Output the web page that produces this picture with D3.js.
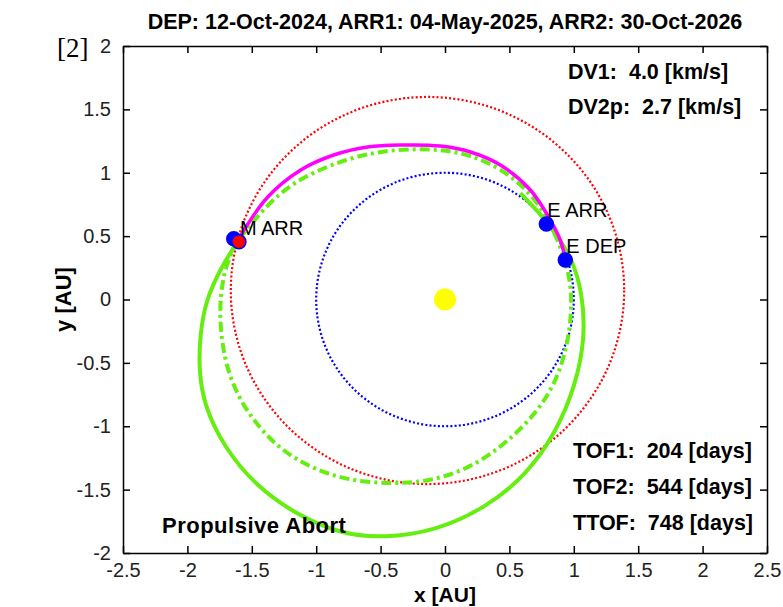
<!DOCTYPE html>
<html>
<head>
<meta charset="utf-8">
<script src="https://cdn.jsdelivr.net/npm/d3@7"></script>
<style>
  body { margin: 0; background: #fff; }
  svg { display: block; font-family: "Liberation Sans", Arial, sans-serif; }
</style>
</head>
<body>
<div id="chart"></div>
<script>
// tick values
const xTicks = [-2.5, -2, -1.5, -1, -0.5, 0, 0.5, 1, 1.5, 2, 2.5]
const yTicks = [-2, -1.5, -1, -0.5, 0, 0.5, 1, 1.5, 2]

// orbits: centre and radius [AU]
const earthOrbit = { cx: 0, cy: 0, r: 1 }
const marsOrbit = { cx: -0.136, cy: 0.071, r: 1.527 }

// outbound leg Earth -> Mars (magenta)
const outbound = [
  [0.934, 0.320], [0.895, 0.469], [0.818, 0.627], [0.663, 0.864], [0.430, 1.061],
  [0.198, 1.164], [-0.035, 1.211], [-0.345, 1.219], [-0.601, 1.203], [-0.864, 1.140],
  [-1.120, 1.022], [-1.376, 0.809], [-1.609, 0.469]
]

// return leg after propulsive abort (green solid)
const returnLeg = [
  [-1.609, 0.462], [-1.740, 0.249], [-1.857, -0.004], [-1.903, -0.280], [-1.911, -0.556],
  [-1.872, -0.832], [-1.717, -1.164], [-1.469, -1.471], [-1.151, -1.700], [-0.810, -1.850],
  [-0.477, -1.882], [-0.074, -1.826], [0.314, -1.645], [0.632, -1.385], [0.864, -1.045],
  [1.012, -0.682], [1.089, -0.304], [1.066, 0.059], [0.988, 0.312], [0.895, 0.469],
  [0.764, 0.651], [0.585, 0.840]
]

// full transfer ellipse (green dash-dot)
const transferOrbit = [
  [-1.609, 0.462], [-1.663, 0.367], [-1.725, 0.178], [-1.756, -0.107], [-1.717, -0.477],
  [-1.609, -0.769], [-1.461, -0.990], [-1.275, -1.187], [-1.027, -1.337], [-0.733, -1.432],
  [-0.399, -1.456], [-0.112, -1.432], [0.159, -1.345], [0.407, -1.187], [0.624, -0.990],
  [0.779, -0.793], [0.880, -0.596], [0.950, -0.359], [0.981, -0.122], [0.981, 0.099],
  [0.934, 0.320], [0.818, 0.611], [0.663, 0.848], [0.430, 1.037], [0.198, 1.140],
  [-0.035, 1.187], [-0.399, 1.187], [-0.733, 1.124], [-1.120, 0.966], [-1.376, 0.761],
  [-1.609, 0.462]
]

// planet positions
const markers = [
  { name: "E DEP", x: 0.934, y: 0.312, fill: "#0000ff", stroke: "#0000ff" },
  { name: "E ARR", x: 0.787, y: 0.596, fill: "#0000ff", stroke: "#0000ff" },
  { name: "", x: -1.640, y: 0.480, fill: "#0000ff", stroke: "#0000ff" },
  { name: "M ARR", x: -1.600, y: 0.455, fill: "#ff0000", stroke: "#0000ff" }
]
const sun = { x: 0, y: 0 }

const titleText = "DEP: 12-Oct-2024, ARR1: 04-May-2025, ARR2: 30-Oct-2026"
const statsTop = ["DV1:  4.0 [km/s]", "DV2p:  2.7 [km/s]"]
const statsBottom = ["TOF1:  204 [days]", "TOF2:  544 [days]", "TTOF:  748 [days]"]

const width = 783, height = 607
const margin = { top: 46, right: 16, bottom: 54, left: 123 }

const svg = d3.select("#chart").append("svg")
  .attr("width", width)
  .attr("height", height)

const x = d3.scaleLinear().domain([-2.5, 2.5]).range([margin.left, width - margin.right])
const y = d3.scaleLinear().domain([-2, 2]).range([height - margin.bottom, margin.top])

const plot = svg.append("g")

// Mars orbit, red dotted
plot.append("ellipse")
  .attr("cx", x(marsOrbit.cx)).attr("cy", y(marsOrbit.cy))
  .attr("rx", x(marsOrbit.r) - x(0)).attr("ry", y(0) - y(marsOrbit.r))
  .attr("fill", "none").attr("stroke", "#ff0000")
  .attr("stroke-width", 2.2).attr("stroke-dasharray", "2,2.2")

// Earth orbit, blue dotted
plot.append("ellipse")
  .attr("cx", x(earthOrbit.cx)).attr("cy", y(earthOrbit.cy))
  .attr("rx", x(earthOrbit.r) - x(0)).attr("ry", y(0) - y(earthOrbit.r))
  .attr("fill", "none").attr("stroke", "#0000ff")
  .attr("stroke-width", 2.2).attr("stroke-dasharray", "2,2.2")

const line = d3.line()
  .x(d => x(d[0]))
  .y(d => y(d[1]))
  .curve(d3.curveCatmullRom.alpha(0.5))

// smoother curve for the hand-read green tracks
const smooth = d3.line()
  .x(d => x(d[0]))
  .y(d => y(d[1]))
  .curve(d3.curveBasis)

plot.append("path")
  .datum(returnLeg)
  .attr("d", smooth)
  .attr("fill", "none").attr("stroke", "#66ee11").attr("stroke-width", 4)

plot.append("path")
  .datum(transferOrbit)
  .attr("d", smooth)
  .attr("fill", "none").attr("stroke", "#66ee11").attr("stroke-width", 4)
  .attr("stroke-dasharray", "10,4,3,4")

plot.append("path")
  .datum(outbound)
  .attr("d", line)
  .attr("fill", "none").attr("stroke", "#ff00ff").attr("stroke-width", 3.5)

// planets and sun
plot.selectAll("circle.planet")
  .data(markers)
  .join("circle")
  .attr("class", "planet")
  .attr("cx", d => x(d.x)).attr("cy", d => y(d.y))
  .attr("r", 7)
  .attr("fill", d => d.fill).attr("stroke", d => d.stroke).attr("stroke-width", 1.5)

plot.append("circle")
  .attr("cx", x(sun.x)).attr("cy", y(sun.y))
  .attr("r", 11).attr("fill", "#ffff00")

plot.selectAll("text.mlabel")
  .data(markers.filter(d => d.name))
  .join("text")
  .attr("class", "mlabel")
  .attr("x", d => x(d.x) + 1)
  .attr("y", d => y(d.y) - 7)
  .attr("font-size", 20)
  .text(d => d.name)

// axes, ticks inside on all four sides
const xAxis = g => g.attr("transform", `translate(0,${height - margin.bottom})`)
  .call(d3.axisBottom(x).tickValues(xTicks).tickSize(-7).tickSizeOuter(0).tickPadding(10).tickFormat(String))
const xAxisTop = g => g.attr("transform", `translate(0,${margin.top})`)
  .call(d3.axisTop(x).tickValues(xTicks).tickSize(-7).tickSizeOuter(0).tickFormat(""))
const yAxis = g => g.attr("transform", `translate(${margin.left},0)`)
  .call(d3.axisLeft(y).tickValues(yTicks).tickSize(-7).tickSizeOuter(0).tickPadding(12).tickFormat(String))
const yAxisRight = g => g.attr("transform", `translate(${width - margin.right},0)`)
  .call(d3.axisRight(y).tickValues(yTicks).tickSize(-7).tickSizeOuter(0).tickFormat(""))

for (const a of [xAxis, xAxisTop, yAxis, yAxisRight]) {
  const g = svg.append("g").call(a)
  g.selectAll("path, line").attr("stroke", "#000").attr("stroke-width", 1.5)
  g.selectAll("text")
    .attr("fill", "#222")
    .attr("font-size", 20)
    .attr("font-family", "Liberation Sans, Arial, sans-serif")
}

// title and labels
svg.append("text")
  .attr("x", (x(-2.5) + x(2.5)) / 2).attr("y", 29)
  .attr("text-anchor", "middle")
  .attr("font-size", 21.5).attr("font-weight", "bold")
  .text(titleText)

svg.append("text")
  .attr("x", (x(-2.5) + x(2.5)) / 2).attr("y", 602)
  .attr("text-anchor", "middle")
  .attr("font-size", 21).attr("font-weight", "bold")
  .text("x [AU]")

svg.append("text")
  .attr("transform", `translate(71,${y(0)}) rotate(-90)`)
  .attr("text-anchor", "middle")
  .attr("font-size", 22).attr("font-weight", "bold")
  .text("y [AU]")

svg.append("text")
  .attr("x", 57).attr("y", 57)
  .attr("font-family", "Liberation Serif, Times New Roman, serif")
  .attr("font-size", 27)
  .text("[2]")

svg.selectAll("text.stat-top")
  .data(statsTop)
  .join("text")
  .attr("class", "stat-top")
  .attr("x", 568).attr("y", (d, i) => 79 + i * 35)
  .attr("font-size", 21.5).attr("font-weight", "bold")
  .style("white-space", "pre")
  .text(d => d)

svg.selectAll("text.stat-bottom")
  .data(statsBottom)
  .join("text")
  .attr("class", "stat-bottom")
  .attr("x", 573).attr("y", (d, i) => 458 + i * 36)
  .attr("font-size", 21.5).attr("font-weight", "bold")
  .style("white-space", "pre")
  .text(d => d)

svg.append("text")
  .attr("x", 162).attr("y", 533)
  .attr("font-size", 22).attr("font-weight", "bold")
  .attr("letter-spacing", 0.5)
  .text("Propulsive Abort")
</script>
</body>
</html>
